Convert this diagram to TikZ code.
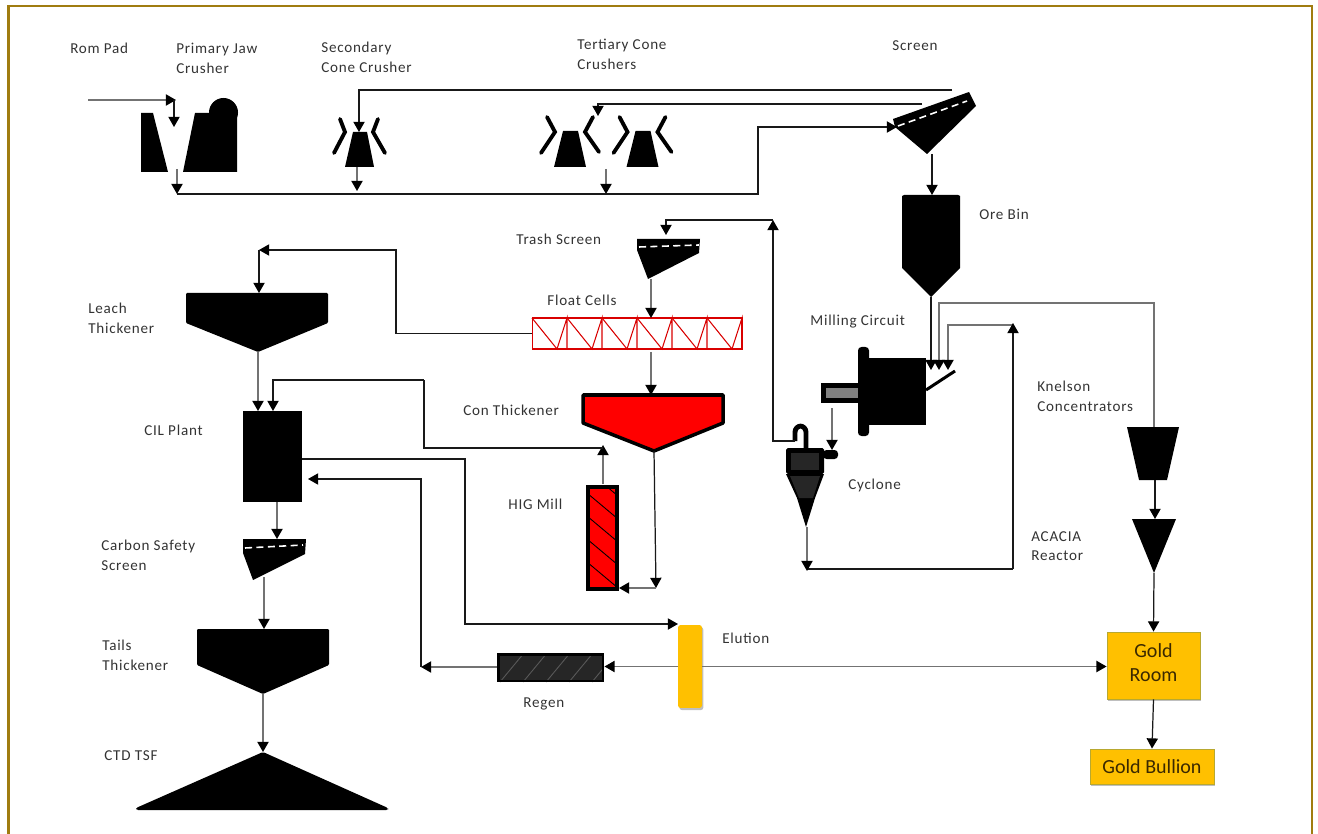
\documentclass[tikz,border=0pt]{standalone}
\usepackage{fontspec}
\setmainfont[LetterSpace=5]{Carlito}
\newfontfamily\goldfont{Carlito}
\usetikzlibrary{arrows.meta, shadows}
\definecolor{framegold}{HTML}{A07C10}
\definecolor{goldfill}{HTML}{FFC000}
\definecolor{goldline}{HTML}{B8A830}
\definecolor{goldtext}{HTML}{3A2800}
\definecolor{labelgrey}{HTML}{333333}

\begin{document}
\begin{tikzpicture}[
  x=0.02cm, y=-0.02cm,
  >={Triangle[length=5.8pt, width=6.4pt, color=black]},
  lbl/.style={anchor=west, inner sep=0pt, align=left, text=labelgrey, yshift=-0.6pt,
              font=\fontsize{8.6}{11.2}\selectfont},
  flow/.style={draw=black!90, line width=0.7pt},
  greyflow/.style={draw=black!55, line width=0.9pt},
  jaw/.style={draw=black, line width=2.2pt, line cap=round, line join=miter},
  mesh/.style={draw=white, line width=0.9pt, dash pattern=on 4pt off 2.5pt},
  goldbox/.style={draw=goldline, line width=0.5pt, fill=goldfill, text=goldtext,
                  inner sep=0pt, align=center,
                  font=\goldfont\fontsize{11.4}{13.6}\selectfont,
                  drop shadow={shadow xshift=0.8pt, shadow yshift=-1.2pt, opacity=0.5}},
  solidbox/.style={fill=black, inner sep=0pt},
]
\useasboundingbox (0,0) rectangle (1318,834);

% Frame
\draw[framegold, line width=1.6pt] (8.5,834) |- (1312,6) -- (1312,834);

% Labels
\node[lbl] (lblRom) at (70,47) {Rom Pad};
\node[lbl] (lblJaw) at (176,57) {Primary Jaw\\Crusher};
\node[lbl] (lblSec) at (321,56) {Secondary\\Cone Crusher};
\node[lbl] (lblTer) at (577,53.5) {Tertiary Cone\\Crushers};
\node[lbl] (lblScreen) at (892,45) {Screen};
\node[lbl] (lblBin) at (979,213) {Ore Bin};
\node[lbl] (lblTrash) at (516,238) {Trash Screen};
\node[lbl] (lblFloat) at (547,299) {Float Cells};
\node[lbl] (lblMill) at (810,320) {Milling Circuit};
\node[lbl] (lblLeach) at (88,317) {Leach\\Thickener};
\node[lbl] (lblCon) at (463,409) {Con Thickener};
\node[lbl] (lblCil) at (144,429) {CIL Plant};
\node[lbl] (lblHig) at (508,503) {HIG Mill};
\node[lbl] (lblCyc) at (848,484) {Cyclone};
\node[lbl] (lblKnel) at (1037,395) {Knelson\\Concentrators};
\node[lbl] (lblAca) at (1031,545) {ACACIA\\Reactor};
\node[lbl] (lblCarb) at (101,554) {Carbon Safety\\Screen};
\node[lbl] (lblTails) at (102,654) {Tails\\Thickener};
\node[lbl] (lblElu) at (722,637) {Elution};
\node[lbl] (lblReg) at (523,703) {Regen};
\node[lbl] (lblTsf) at (104,755) {CTD TSF};

% Primary jaw crusher
\fill (141,113) -- (153,113) -- (168,172) -- (141,172) -- cycle;
\fill (183,172) -- (195,113) -- (237,113) -- (237,172) -- cycle;
\fill (223.5,112.5) circle (14.5);

% Secondary cone crusher
\fill (353,132) -- (367,132) -- (374,167) -- (345,167) -- cycle;
\draw[jaw] (340,119) -- (345,132) -- (334,153);
\draw[jaw] (378,119) -- (373,132) -- (385,153);

% Tertiary cone crushers
\foreach \x in {0,72.5} {
  \fill (563+\x,131) -- (578+\x,131) -- (586+\x,167) -- (554+\x,167) -- cycle;
  \draw[jaw] (547+\x,117) -- (555+\x,132) -- (541+\x,153);
  \draw[jaw] (593+\x,117) -- (585+\x,132) -- (599+\x,152);
}

% Screen
\fill (893,119) -- (969,92) -- (976,106) -- (927,154) -- (895,127) -- cycle;
\draw[mesh] (898,126) -- (967,101);

% Ore bin
\fill (902,196) -- (904,195) -- (958,195) -- (960,196) -- (960,268) -- (931,297) -- (902,268) -- cycle;

% Trash screen
\fill (637,239) -- (700,239) -- (699,253) -- (648,279) -- (637,250) -- cycle;
\draw[mesh] (639,247) -- (699,245);

% Float cells
\node[draw=red!85!black, line width=0.6pt, minimum width=4.2cm, minimum height=0.62cm,
      inner sep=0pt] (floatcells) at (637,333.5) {};
\foreach \x in {532,567,602,637,672,707} {
  \draw[red!85!black, line width=0.6pt] (\x,318) -- (\x+25,349) -- (\x+35,318) -- (\x+35,349);
}

% Con thickener
\draw[fill=red, line width=2pt, line join=round] (583,395) -- (723,395) -- (723,423) -- (654,451) -- (583,423) -- cycle;

% HIG mill
\fill[red] (587,486) rectangle (618,590);
\begin{scope}
  \clip (587,486) rectangle (618,590);
  \foreach \y in {470,493,516,539,562,585} {
    \draw[black, line width=0.5pt] (587,\y) -- (618,\y+26);
  }
\end{scope}
\node[draw, line width=2.3pt, minimum width=0.58cm, minimum height=2.04cm, inner sep=0pt] (higmill) at (602.5,538) {};

% Leach thickener
\fill[rounded corners=0.6pt] (186,293) -- (328,293) -- (328,323) -- (258,352) -- (186,323) -- cycle;

% CIL plant
\node[solidbox, minimum width=1.18cm, minimum height=1.82cm] (cil) at (272.5,456.5) {};

% Carbon safety screen
\fill (243,539) -- (306,539) -- (305,554) -- (253,580) -- (243,553) -- cycle;
\draw[mesh] (245,548) -- (303,545);

% Tails thickener
\fill[rounded corners=0.6pt] (197,629) -- (329,629) -- (329,665) -- (263,694) -- (197,665) -- cycle;

% CTD TSF
\fill[rounded corners=1pt] (263,752) -- (388,808) -- (388,810) -- (136,810) -- (136,808) -- cycle;

% Regen
\fill[black!85] (497,653) rectangle (604,682);
\begin{scope}
  \clip (497,653) rectangle (604,682);
  \foreach \x in {500,523,546,569,592} {
    \draw[black!65, line width=0.5pt] (\x,682) -- (\x+24,653);
  }
\end{scope}
\node[draw, line width=1.7pt, minimum width=2.1cm, minimum height=0.54cm, inner sep=0pt] (regen) at (550.5,667.5) {};

% Elution
\node[goldbox, draw=none, rounded corners=1.5pt, minimum width=0.48cm, minimum height=1.66cm] (elution) at (690,666.5) {};

% Gold room and bullion
\node[goldbox, text depth=3.4pt, minimum width=1.86cm, minimum height=1.34cm] (goldroom) at (1153.5,665.5) {Gold\\Room};
\node[goldbox, minimum width=2.48cm, minimum height=0.7cm] (bullion) at (1152,766.5) {Gold Bullion};

% Knelson concentrators and ACACIA reactor
\fill (1127,427) -- (1179,427) -- (1167,480) -- (1139,480) -- cycle;
\fill (1132,519) -- (1176,519) -- (1154,573) -- cycle;

% Mill
\fill (869,358) rectangle (926,425);
\fill[rounded corners=2pt] (858,347) rectangle (869,436);
\fill (821,383) rectangle (858,403);
\fill[black!50] (826,388) rectangle (858,398);
\draw[black, line width=1.7pt] (926,390) -- (955,371);

% Cyclone
\fill[rounded corners=1pt] (786,448) rectangle (824,474);
\fill[black!85] (791,453) rectangle (819,470);
\fill (786,474) -- (824,474) -- (815,498) -- (806,527) -- (797,498) -- cycle;
\fill[black!85] (790,476) -- (820,476) -- (813,498) -- (799,498) -- cycle;
\fill[rounded corners=2pt] (823,450) rectangle (838,459);
\draw[black, line width=2.8pt, rounded corners=3.5pt] (795,441) -- (795,426) -- (806,426) -- (806,449);

% Coordinates for the connector ends
\coordinate (romIn) at (88,100);
\coordinate (romTip) at (176,100);
\coordinate (romDrop) at (174,100);
\coordinate (jawTop) at (174,127);
\coordinate (jawOut) at (177,169);
\coordinate (belt) at (177,194);
\coordinate (secOut) at (357,167);
\coordinate (secTip) at (357,191);
\coordinate (terOut) at (606,169);
\coordinate (terTip) at (606,194);
\coordinate (beltRise) at (758,194);
\coordinate (screenIn) at (897,127);
\coordinate (screenOverA) at (952,90);
\coordinate (secIn) at (359,132);
\coordinate (screenOverB) at (922,104);
\coordinate (terIn) at (598,116);
\coordinate (screenOut) at (932,154);
\coordinate (binIn) at (932,195);
\coordinate (binOut) at (931,297);
\coordinate (millInA) at (931,370);
\coordinate (millInB) at (939,370);
\coordinate (millInC) at (948,370);
\coordinate (knelRun) at (1154,303);
\coordinate (knelIn) at (1154,427);
\coordinate (knelOut) at (1155,480);
\coordinate (acaIn) at (1155,519);
\coordinate (acaOut) at (1154,573);
\coordinate (recycleTop) at (1013,323);
\coordinate (recycleRun) at (1013,325);
\coordinate (recycleLow) at (1013,569);
\coordinate (recycleEnd) at (807,569);
\coordinate (cycOut) at (807,527);
\coordinate (cycTip) at (807,571);
\coordinate (millOut) at (832,408);
\coordinate (cycIn) at (832,450);
\coordinate (overflow) at (795,441);
\coordinate (overRise) at (773,441);
\coordinate (overTip) at (773,220);
\coordinate (trashIn) at (666,235);
\coordinate (trashOut) at (651,279);
\coordinate (floatIn) at (651,318);
\coordinate (floatOut) at (651,352);
\coordinate (conIn) at (651,395);
\coordinate (conOut) at (654,451);
\coordinate (conLow) at (656,588);
\coordinate (higTop) at (603,484);
\coordinate (higTip) at (603,445);
\coordinate (higRun) at (603,448);
\coordinate (cilRunA) at (424,448);
\coordinate (cilRunB) at (424,380);
\coordinate (cilInB) at (273,411);
\coordinate (floatRise) at (396,333.5);
\coordinate (floatHead) at (396,250);
\coordinate (leachTee) at (259,250);
\coordinate (leachIn) at (259,293);
\coordinate (leachOut) at (258,352);
\coordinate (cilInA) at (258,411);
\coordinate (cilEast) at (302,459);
\coordinate (eluRise) at (465,459);
\coordinate (eluRun) at (465,624);
\coordinate (eluIn) at (678,624);
\coordinate (retTip) at (308,479);
\coordinate (retCorner) at (421,479);
\coordinate (retLow) at (421,667);
\coordinate (cilOut) at (277,502);
\coordinate (carbIn) at (277,539);
\coordinate (carbOut) at (264,577);
\coordinate (tailsIn) at (264,629);
\coordinate (tailsOut) at (263,694);
\coordinate (tsfIn) at (263,752);

% Top circuit
\draw[greyflow, ->] (romIn) -- (romTip);
\draw[flow, ->] (romDrop) -- (jawTop);
\draw[greyflow, ->] (jawOut) -- (belt);
\draw[greyflow, ->] (secOut) -- (secTip);
\draw[greyflow, ->] (terOut) -- (terTip);
\draw[flow, ->] (belt) -- (beltRise) |- (screenIn);
\draw[flow, ->] (screenOverA) -| (secIn);
\draw[flow, ->] (screenOverB) -| (terIn);
\draw[flow, ->] (screenOut) -- (binIn);

% Milling circuit
\draw[flow, ->] (binOut) -- (millInA);
\draw[greyflow, <-] (millInB) |- (knelRun) -- (knelIn);
\draw[greyflow, <-] (millInC) |- (recycleRun);
\draw[flow, ->] (recycleLow) -- (recycleTop);
\draw[flow] (recycleEnd) -- (recycleLow);
\draw[greyflow, ->] (cycOut) -- (cycTip);
\draw[greyflow, ->] (millOut) -- (cycIn);
\draw[flow, ->] (overflow) -- (overRise) -- (overTip);
\draw[flow, ->] (overTip) -| (trashIn);

% Gold recovery
\draw[flow, ->] (knelOut) -- (acaIn);
\draw[flow, ->] (acaOut) -- (goldroom.north);
\draw[flow, ->] (goldroom.south) -- (bullion.north);
\draw[greyflow, ->] (elution.east) -- (goldroom.west |- elution.east);

% Float and thickening
\draw[greyflow, ->] (trashOut) -- (floatIn);
\draw[greyflow, ->] (floatOut) -- (conIn);
\draw[flow, ->] (conOut) -- (conLow);
\draw[greyflow, ->] (conLow) -- (higmill.east |- conLow);
\draw[greyflow, ->] (higTop) -- (higTip);
\draw[flow] (higRun) -- (cilRunA) -- (cilRunB);
\draw[flow, ->] (cilRunB) -| (cilInB);
\draw[flow, ->] (floatcells.west) -- (floatRise) -- (floatHead) -- (leachTee);
\draw[flow, ->] (leachTee) -- (leachIn);

% Leach and tails
\draw[greyflow, ->] (leachOut) -- (cilInA);
\draw[flow, ->] (cilEast) -- (eluRise) -- (eluRun) -- (eluIn);
\draw[greyflow, ->] (elution.west) -- (regen.east |- elution.west);
\draw[greyflow, ->] (regen.west |- retLow) -- (retLow);
\draw[flow, ->] (retLow) -- (retCorner) -- (retTip);
\draw[greyflow, ->] (cilOut) -- (carbIn);
\draw[greyflow, ->] (carbOut) -- (tailsIn);
\draw[greyflow, ->] (tailsOut) -- (tsfIn);

\end{tikzpicture}
\end{document}
